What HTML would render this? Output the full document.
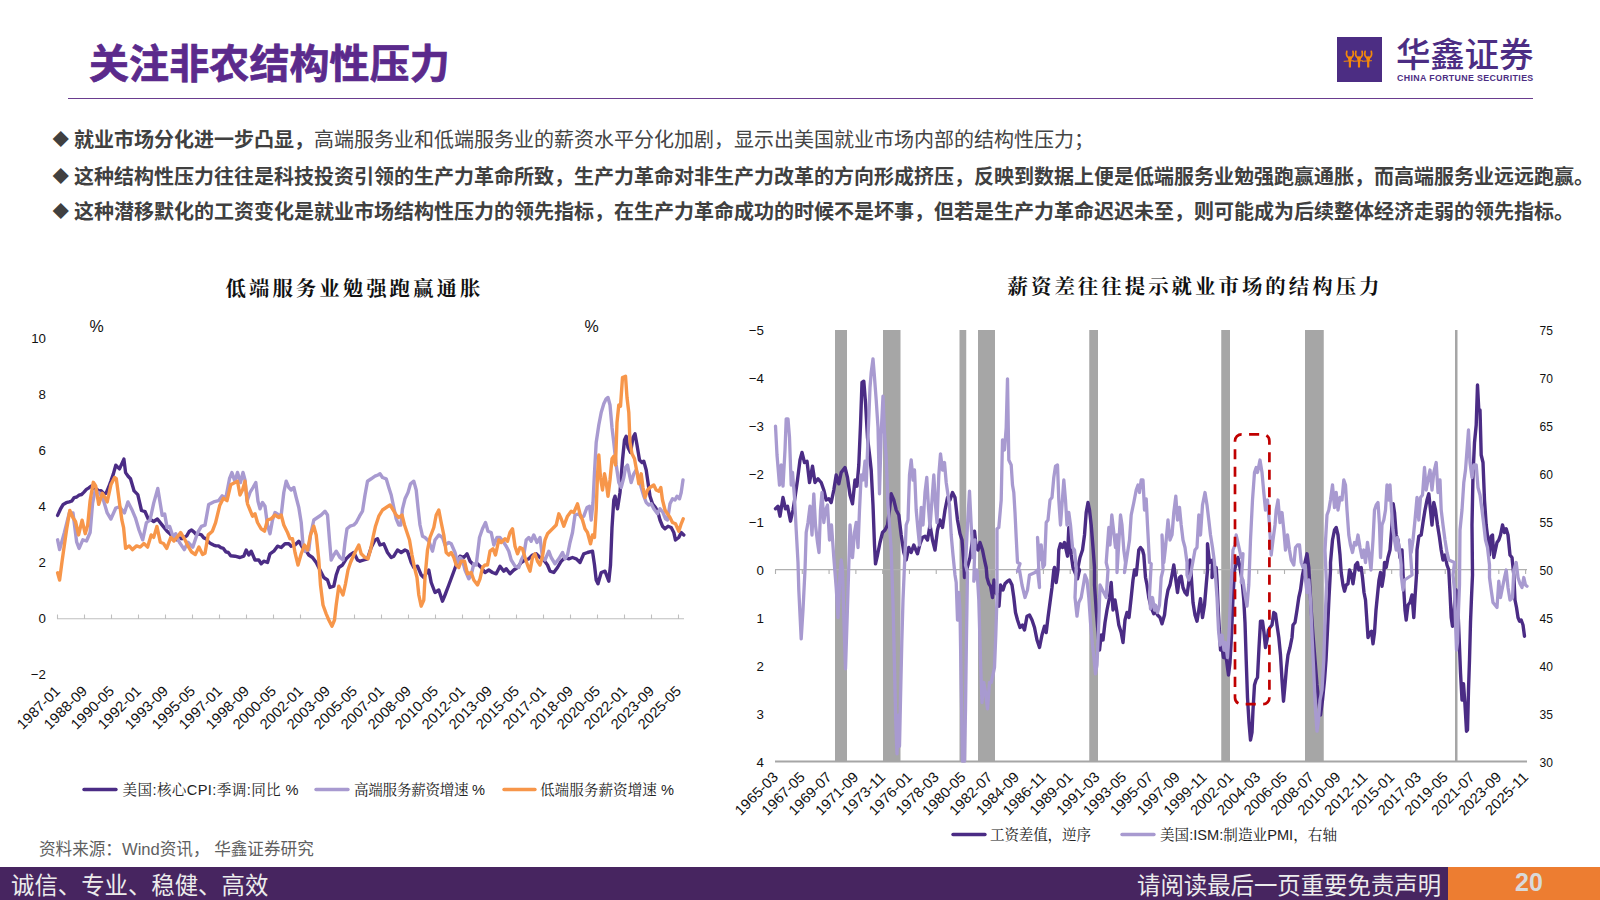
<!DOCTYPE html>
<html lang="zh-CN">
<head>
<meta charset="utf-8">
<title>关注非农结构性压力</title>
<style>
html,body{margin:0;padding:0;background:#fff;}
body{width:1600px;height:900px;position:relative;overflow:hidden;font-family:"Liberation Sans","Noto Sans CJK SC",sans-serif;}
.abs{position:absolute;white-space:nowrap;}
#title{left:89px;top:36px;font-size:40px;line-height:56px;font-weight:700;color:#5b2a8c;letter-spacing:0.1px;-webkit-text-stroke:0.7px #5b2a8c;}
#rule{left:68px;top:97.6px;width:1465px;height:1.5px;background:#6a3d8f;}
#logo-sq{left:1337px;top:37px;width:45px;height:45px;background:#4c2d83;}
#logo-cn{left:1396px;top:31.5px;font-size:34.5px;line-height:46px;color:#4c2d83;font-weight:500;letter-spacing:-0.2px;}
#logo-en{left:1397px;top:73px;font-size:8.8px;line-height:11px;color:#4c2d83;font-weight:700;letter-spacing:0.37px;}
.bul{left:52.5px;font-size:20px;line-height:30px;color:#404040;font-weight:700;}
.bul .dm{display:inline-block;width:21.5px;font-size:16.5px;font-weight:400;position:relative;top:-1px;}
.bul .rg{font-weight:400;color:#444;}
.ct{font-family:"Liberation Serif","Noto Serif CJK SC",serif;font-weight:700;font-size:20.4px;line-height:30px;letter-spacing:3.05px;color:#111;}
#src{left:39px;top:839px;font-size:16.6px;line-height:22px;color:#5f5f5f;}
#foot{left:0;top:867px;width:1600px;height:33px;background:#472560;}
#foot-o{left:1448px;top:867px;width:152px;height:33px;background:#ed7d31;}
.ft{top:870px;font-size:23.4px;line-height:33px;color:#ececec;font-weight:400;}
#pg{left:1449px;width:160px;top:866px;text-align:center;font-size:25px;line-height:33px;font-weight:700;color:#d9d9d9;}
svg text{font-family:"Liberation Sans","Noto Sans CJK SC",sans-serif;font-size:13.3px;fill:#111;}
svg .xl text{font-size:14.5px;}
svg .lg{font-family:"Liberation Sans","Noto Serif CJK SC",serif;font-size:14.6px;fill:#222;}
</style>
</head>
<body>
<div id="title" class="abs">关注非农结构性压力</div>
<div id="rule" class="abs"></div>
<div id="logo-sq" class="abs"><svg width="45" height="45" viewBox="0 0 45 45"><path d="M9.8 14.3Q8.6 19.5 12.1 21.2M16 14.3Q17.2 19.5 13.7 21.2" fill="none" stroke="#f4890a" stroke-width="1.7" stroke-linecap="round"/><path d="M10.6 19.8c1.5-0.700 3.100-0.700 4.600 0l-1 4.400h-2.600z" fill="#f4890a"/><rect x="11.8" y="22" width="2.2" height="8.4" rx="0.5" fill="#f4890a"/><path d="M7.1 24.3L16.2 23.7" stroke="#f4890a" stroke-width="1" stroke-linecap="round"/><path d="M18.9 14.3Q17.7 19.5 21.2 21.2M25.1 14.3Q26.3 19.5 22.8 21.2" fill="none" stroke="#f4890a" stroke-width="1.7" stroke-linecap="round"/><path d="M19.7 19.8c1.5-0.700 3.100-0.700 4.600 0l-1 4.400h-2.600z" fill="#f4890a"/><rect x="20.9" y="22" width="2.2" height="8.4" rx="0.5" fill="#f4890a"/><path d="M16.2 24.3L25.3 23.7" stroke="#f4890a" stroke-width="1" stroke-linecap="round"/><path d="M28.1 14.3Q26.9 19.5 30.4 21.2M34.3 14.3Q35.5 19.5 32 21.2" fill="none" stroke="#f4890a" stroke-width="1.7" stroke-linecap="round"/><path d="M28.9 19.8c1.5-0.700 3.100-0.700 4.600 0l-1 4.400h-2.600z" fill="#f4890a"/><rect x="30.1" y="22" width="2.2" height="8.4" rx="0.5" fill="#f4890a"/><path d="M25.4 24.3L34.5 23.7" stroke="#f4890a" stroke-width="1" stroke-linecap="round"/></svg></div>
<div id="logo-cn" class="abs">华鑫证券</div>
<div id="logo-en" class="abs">CHINA FORTUNE SECURITIES</div>

<div class="abs bul" style="top:125px"><span class="dm">◆</span>就业市场分化进一步凸显，<span class="rg">高端服务业和低端服务业的薪资水平分化加剧，显示出美国就业市场内部的结构性压力；</span></div>
<div class="abs bul" style="top:162px"><span class="dm">◆</span>这种结构性压力往往是科技投资引领的生产力革命所致，生产力革命对非生产力改革的方向形成挤压，反映到数据上便是低端服务业勉强跑赢通胀，而高端服务业远远跑赢。</div>
<div class="abs bul" style="top:197px"><span class="dm">◆</span>这种潜移默化的工资变化是就业市场结构性压力的领先指标，在生产力革命成功的时候不是坏事，但若是生产力革命迟迟未至，则可能成为后续整体经济走弱的领先指标。</div>

<div class="abs ct" style="left:225.5px;top:274px">低端服务业勉强跑赢通胀</div>
<div class="abs ct" style="left:1007.5px;top:272px">薪资差往往提示就业市场的结构压力</div>

<svg class="abs" style="left:0;top:0" width="1600" height="900" viewBox="0 0 1600 900">
<!-- left chart -->
<g stroke="#bfbfbf" stroke-width="1.1" fill="none"><line x1="57" y1="618.8" x2="684" y2="618.8"/><line x1="57.5" y1="614.5" x2="57.5" y2="619"/><line x1="84.5" y1="614.5" x2="84.5" y2="619"/><line x1="111.5" y1="614.5" x2="111.5" y2="619"/><line x1="138.5" y1="614.5" x2="138.5" y2="619"/><line x1="165.5" y1="614.5" x2="165.5" y2="619"/><line x1="192.5" y1="614.5" x2="192.5" y2="619"/><line x1="219.5" y1="614.5" x2="219.5" y2="619"/><line x1="246.5" y1="614.5" x2="246.5" y2="619"/><line x1="273.5" y1="614.5" x2="273.5" y2="619"/><line x1="300.5" y1="614.5" x2="300.5" y2="619"/><line x1="327.5" y1="614.5" x2="327.5" y2="619"/><line x1="354.5" y1="614.5" x2="354.5" y2="619"/><line x1="381.5" y1="614.5" x2="381.5" y2="619"/><line x1="408.5" y1="614.5" x2="408.5" y2="619"/><line x1="435.5" y1="614.5" x2="435.5" y2="619"/><line x1="462.5" y1="614.5" x2="462.5" y2="619"/><line x1="489.5" y1="614.5" x2="489.5" y2="619"/><line x1="516.5" y1="614.5" x2="516.5" y2="619"/><line x1="543.5" y1="614.5" x2="543.5" y2="619"/><line x1="570.5" y1="614.5" x2="570.5" y2="619"/><line x1="597.5" y1="614.5" x2="597.5" y2="619"/><line x1="624.5" y1="614.5" x2="624.5" y2="619"/><line x1="651.5" y1="614.5" x2="651.5" y2="619"/><line x1="678.5" y1="614.5" x2="678.5" y2="619"/></g>
<g><text x="46" y="342.9" text-anchor="end">10</text><text x="46" y="398.9" text-anchor="end">8</text><text x="46" y="454.9" text-anchor="end">6</text><text x="46" y="510.9" text-anchor="end">4</text><text x="46" y="566.9" text-anchor="end">2</text><text x="46" y="622.9" text-anchor="end">0</text><text x="46" y="678.9" text-anchor="end">−2</text></g>
<text x="89.5" y="331.5" style="font-size:16px">%</text>
<text x="584.5" y="331.5" style="font-size:16px">%</text>
<g class="xl"><text transform="translate(61,692) rotate(-45)" text-anchor="end" textLength="54" lengthAdjust="spacingAndGlyphs">1987-01</text><text transform="translate(88,692) rotate(-45)" text-anchor="end" textLength="54" lengthAdjust="spacingAndGlyphs">1988-09</text><text transform="translate(115,692) rotate(-45)" text-anchor="end" textLength="54" lengthAdjust="spacingAndGlyphs">1990-05</text><text transform="translate(142,692) rotate(-45)" text-anchor="end" textLength="54" lengthAdjust="spacingAndGlyphs">1992-01</text><text transform="translate(169,692) rotate(-45)" text-anchor="end" textLength="54" lengthAdjust="spacingAndGlyphs">1993-09</text><text transform="translate(196,692) rotate(-45)" text-anchor="end" textLength="54" lengthAdjust="spacingAndGlyphs">1995-05</text><text transform="translate(223,692) rotate(-45)" text-anchor="end" textLength="54" lengthAdjust="spacingAndGlyphs">1997-01</text><text transform="translate(250,692) rotate(-45)" text-anchor="end" textLength="54" lengthAdjust="spacingAndGlyphs">1998-09</text><text transform="translate(277,692) rotate(-45)" text-anchor="end" textLength="54" lengthAdjust="spacingAndGlyphs">2000-05</text><text transform="translate(304,692) rotate(-45)" text-anchor="end" textLength="54" lengthAdjust="spacingAndGlyphs">2002-01</text><text transform="translate(331,692) rotate(-45)" text-anchor="end" textLength="54" lengthAdjust="spacingAndGlyphs">2003-09</text><text transform="translate(358,692) rotate(-45)" text-anchor="end" textLength="54" lengthAdjust="spacingAndGlyphs">2005-05</text><text transform="translate(385,692) rotate(-45)" text-anchor="end" textLength="54" lengthAdjust="spacingAndGlyphs">2007-01</text><text transform="translate(412,692) rotate(-45)" text-anchor="end" textLength="54" lengthAdjust="spacingAndGlyphs">2008-09</text><text transform="translate(439,692) rotate(-45)" text-anchor="end" textLength="54" lengthAdjust="spacingAndGlyphs">2010-05</text><text transform="translate(466,692) rotate(-45)" text-anchor="end" textLength="54" lengthAdjust="spacingAndGlyphs">2012-01</text><text transform="translate(493,692) rotate(-45)" text-anchor="end" textLength="54" lengthAdjust="spacingAndGlyphs">2013-09</text><text transform="translate(520,692) rotate(-45)" text-anchor="end" textLength="54" lengthAdjust="spacingAndGlyphs">2015-05</text><text transform="translate(547,692) rotate(-45)" text-anchor="end" textLength="54" lengthAdjust="spacingAndGlyphs">2017-01</text><text transform="translate(574,692) rotate(-45)" text-anchor="end" textLength="54" lengthAdjust="spacingAndGlyphs">2018-09</text><text transform="translate(601,692) rotate(-45)" text-anchor="end" textLength="54" lengthAdjust="spacingAndGlyphs">2020-05</text><text transform="translate(628,692) rotate(-45)" text-anchor="end" textLength="54" lengthAdjust="spacingAndGlyphs">2022-01</text><text transform="translate(655,692) rotate(-45)" text-anchor="end" textLength="54" lengthAdjust="spacingAndGlyphs">2023-09</text><text transform="translate(682,692) rotate(-45)" text-anchor="end" textLength="54" lengthAdjust="spacingAndGlyphs">2025-05</text></g>
<g fill="none" stroke-linejoin="round" stroke-linecap="round" stroke-width="3.4">
<path stroke="#4b2c85" d="M57.6,515.4 L60.4,509.2 L63.2,504.4 L66.2,502.7 L69.3,501.9 L71.8,501 L74.2,497.6 L76.7,497 L79.1,495.2 L81.6,494.5 L84,492.1 L86.4,489.4 L88.9,487.9 L91.3,486 L93.8,488.6 L96.2,488.8 L98.7,490.9 L101.1,490.8 L103.6,493.4 L106,493.3 L108.5,487.5 L110.9,481.1 L113.3,474.1 L115.8,465.2 L119.5,468.9 L123.9,459.1 L125.6,472.6 L128.1,476.2 L130.5,478.7 L134.1,490.9 L137.8,494.6 L141.5,510.5 L145.1,511.7 L148.8,520.2 L151.2,519.9 L153.7,521.5 L157.4,519 L162.2,525.1 L164.6,528.1 L167.1,531.2 L170.2,534 L173.3,537.4 L176.9,539.8 L179.4,538 L181.8,538.7 L184.3,537.4 L186.7,535.9 L189.2,531.5 L191.6,530 L194.1,532.1 L196.5,534.9 L198.9,534 L201.4,534.9 L203.8,537.8 L206.3,538.8 L208.7,542.2 L211.1,543.8 L213.6,545.1 L216,545.9 L218.5,545.9 L220.9,547.7 L223.4,548.4 L225.8,551.8 L228.3,552.5 L230.7,555.7 L235,556.2 L240,557.5 L243.8,556.2 L246.2,550 L248.8,555 L251.2,551.2 L255,560 L258.8,560 L261.2,563.8 L263.8,561.2 L267.5,562.5 L270,553.8 L273.8,551.2 L277.5,546.2 L281.2,547.5 L285,543.8 L288.8,543.8 L291.2,546.2 L295,545 L298.8,541.2 L302.5,547.5 L305,548.8 L308.8,555 L312.5,557.5 L316.2,562.5 L320,570 L323.8,577.5 L327.5,580 L330,587.5 L333.8,586.2 L336.2,575 L338.8,567.5 L342.5,565 L346.2,558.8 L350,555 L353.8,552.5 L357.5,560 L360,561.2 L363.8,560 L367.5,558.8 L371.2,547.5 L375,540 L377.5,538.8 L380,545 L383.8,543.8 L387.5,552.5 L391.2,557.5 L393.8,556.2 L397.5,550 L401.2,552.5 L405,550 L407.5,551.2 L411.2,562.5 L413.8,567.5 L417.5,566.2 L421.2,575 L423.8,577.5 L425,575 L428.8,570 L431.2,582.5 L435,592.5 L438.8,590 L442.5,601.2 L445,595 L448.8,585 L452.5,575 L456.2,565 L460,556.2 L463.8,557.5 L467,553.8 L470,561.2 L473.8,565 L477.5,563.8 L481.2,567.5 L485,572.5 L488.8,570 L492.5,572.5 L496.2,573.8 L500,566.2 L503.8,571.2 L506.2,568.8 L510,573.8 L513.8,570 L517.5,567.5 L521.2,562.5 L525,560 L528.8,558.8 L532.5,555 L536.2,553.8 L540,557.5 L543.8,560 L547.5,565 L550,571.2 L553.8,572.5 L557.5,567.5 L561.2,561.2 L565,557.5 L568.8,558.8 L572.5,557.5 L576.2,558.8 L580,562.5 L583.8,553.8 L587.5,552.5 L592.5,551.2 L594.5,565 L596.2,580 L598,583.8 L601.2,572.5 L605,571.2 L608.8,581.2 L610.5,565 L612,527.5 L613.8,500 L615,496.2 L617.5,508.8 L620,492.5 L622.5,460 L624.5,440 L626.2,436.2 L628,447.5 L630.5,452.5 L633,437.5 L635,433.8 L637,445 L639.5,460 L642,462.5 L643.8,461.2 L646.2,470 L648,482.5 L650,496.2 L652.5,503.8 L655.5,507.5 L658,512.5 L660,520 L662.5,526.2 L665,528.8 L668,526.2 L671.2,527.5 L673.8,532.5 L675.5,540 L678.8,537.5 L681.2,532.5 L683.8,535"/>
<path stroke="#a89ad0" d="M57.6,539.8 L59.6,549.6 L64.4,532.5 L69.3,512.9 L73,512.9 L76.7,542.2 L79.1,548.4 L82.8,539.8 L86.5,541 L90.1,532.5 L92.6,503.1 L95,490.9 L99.9,493.3 L103.6,500.7 L107.2,512.9 L110.9,519 L115.8,508 L119.5,506.8 L124.4,512.9 L128,501.9 L131.7,509.2 L135.4,517.8 L139,530 L142.7,539.8 L146.4,522.7 L150,520.2 L153.7,503.1 L157.8,488.5 L159.8,500.7 L162.2,515.4 L164.7,514.1 L167.1,527.6 L169.6,526.4 L173.3,537.4 L175.7,533.7 L179.4,542.2 L184.3,549.6 L187.9,542.2 L192.8,547.1 L197.7,532.5 L201.4,526.4 L205,525.1 L208.7,504.4 L213.6,501.9 L218.5,500.7 L222.2,495.8 L225.8,498.2 L229.5,478.7 L231.9,472.6 L234.4,479.9 L235,481.2 L237.5,472.5 L240.5,482.5 L243,472.5 L245,480 L247,501.2 L250,492.5 L253,487.5 L255.8,482.5 L258,501.2 L260,508.8 L262.5,502.5 L265,506.2 L267.5,525 L270,533.8 L272.5,520 L275,512.5 L278.8,515 L281.2,515 L283.8,492.5 L286.2,481.2 L288.8,487.5 L291.2,490 L293.8,487.5 L296.2,497.5 L298.8,507.5 L301.2,522.5 L303,545 L305,551.2 L308.8,550 L310.5,535 L313.8,520 L317.5,517.5 L321.2,515 L325,511.2 L327.5,515 L329.5,540 L331.2,560 L333.8,555 L336.2,551.2 L340,557.5 L343,560 L345,542.5 L347,528.8 L350,526.2 L353.8,525 L356.2,522.5 L359.5,516.2 L362.5,511.2 L365,495 L367.5,481.2 L371.2,478.8 L375,476.2 L378,475 L380,473.8 L382.5,477.5 L386.2,478.8 L388.8,487.5 L391.2,495 L393.8,507.5 L396.2,518.8 L398.8,525 L400.8,525 L402.5,508.8 L405,498.8 L408,492.5 L410.5,483.8 L413.8,481.2 L416.2,490 L418,507.5 L420,525 L422.5,536.2 L425,537.5 L428.8,541.2 L432.5,551.2 L435,540 L438.8,535 L442.5,537.5 L445,545 L448.8,542.5 L451.2,543.8 L455,552.5 L457.5,562.5 L460,557.5 L462.5,560 L465,570 L468.8,578.8 L471.2,575 L473.8,563.8 L476.2,565 L479.5,537.5 L482.5,528.8 L485.5,522.5 L488,531.2 L491.2,532.5 L493.8,545 L497,537.5 L500,537.5 L503.8,542.5 L506.2,546.2 L508.8,551.2 L511.2,560 L515,566.2 L518.8,567.5 L521.2,560 L523.8,555 L526.2,540 L528.8,537.5 L531.2,541.2 L533.8,535 L537,542.5 L540,537.5 L542.5,557.5 L545,560 L548.8,551.2 L551.2,557.5 L555,563.8 L558.8,558.8 L562.5,552.5 L565,558.8 L567.5,555 L570,542.5 L572.5,532.5 L575,515 L578.8,513.8 L581.2,517.5 L583.8,516.2 L587,507.5 L589.5,506.2 L591.2,520 L593,502.5 L594.5,472.5 L596.2,442.5 L598.8,425 L601.2,412.5 L603.8,403.8 L606.2,398.8 L608,397.5 L610,405 L612,427.5 L613.8,442.5 L616.2,465 L618.8,482.5 L621.2,487.5 L623.8,477.5 L625.5,467.5 L627.5,465 L629.5,475 L631.2,482.5 L633.8,473.8 L636.2,470 L638.8,477.5 L641.2,487.5 L643.8,496.2 L646.2,502.5 L648.8,505 L651.2,503.8 L653.8,508.8 L657.5,513.8 L660,508.8 L663,512.5 L665.5,518.8 L667.5,520 L670,503.8 L672.5,498.8 L675,500 L677,496.2 L679.5,498.8 L681.2,492.5 L683,480"/>
<path stroke="#f7964a" d="M57.6,572.8 L59.6,580.1 L62,561.8 L64.4,544.7 L66.9,527.6 L69.8,510.5 L73,517.8 L75.5,521.5 L78.6,534.9 L82.1,520.2 L85.2,533.7 L87.7,525.1 L90.1,500.7 L93.3,482.3 L95.7,486 L98.7,504.4 L102.3,493.3 L105.5,498.2 L107.2,501.9 L110.9,484.8 L114.6,477.5 L116.3,478.7 L119.5,503.1 L121.9,520.2 L123.6,527.6 L125.6,548.4 L129.2,545.9 L132.4,549.6 L136.6,545.9 L140.2,547.1 L143.9,543.5 L147.6,547.1 L151.2,534.9 L153.7,537.4 L156.9,526.4 L160.3,542.2 L163.5,543.5 L166.7,548.4 L170.8,537.4 L174,541 L176.9,537.4 L180.6,532.5 L184.3,538.6 L187.9,545.9 L191.6,552 L195.3,554.5 L198.9,547.1 L202.6,554.5 L205,553.3 L208.2,534.9 L212.4,531.2 L215.6,522.7 L219.7,505.6 L223.4,498.2 L227,500.7 L230.7,484.8 L235,482.5 L237.5,481.2 L240,495 L242.5,490 L245,481.2 L247.5,503.8 L250,510 L252.5,516.2 L255,513.8 L257.5,522.5 L261.2,528.8 L264.5,531.2 L267.5,520 L271.2,518.8 L275,515 L278.8,517.5 L281.2,515 L283.8,525 L287.5,532.5 L290,538.8 L292.5,538.8 L295,552.5 L298,565 L301.2,553.8 L304.5,545 L307.5,550 L310.5,535 L313.8,526.2 L316.2,535 L318.8,560 L320.5,585 L323,605 L326.2,613.8 L328.8,620 L332,626.2 L334.5,620 L336.2,605 L338.8,586.2 L341.2,591.2 L343,595 L345.5,583.8 L348,570 L350.5,562.5 L353.8,555 L356.2,550 L358.8,545 L361.2,553.8 L365,557.5 L368,558.8 L370.5,550 L373,537.5 L375.5,526.2 L378.8,516.2 L382.5,510 L386.2,507.5 L390,505 L392.5,508.8 L396.2,515 L398.8,517.5 L402,515 L404.5,525 L407,532.5 L409.5,540 L412,555 L414.5,567.5 L417,577.5 L418.8,595 L421.2,606.2 L423.8,600 L425,577.5 L427.5,550 L430,537.5 L433.8,527.5 L436.2,515 L438.8,510 L441.2,522.5 L443.8,535 L446.2,552.5 L448.8,555 L451.2,552.5 L453.8,557.5 L456.2,565 L458.8,567.5 L461.2,561.2 L464.5,561.2 L467.5,573.8 L471.2,572.5 L473.8,580 L477.5,585 L480,578.8 L482.5,567.5 L485,565 L487.5,565 L490,551.2 L493,548.8 L495.5,555 L498.8,540 L501.2,542.5 L505,538.8 L507.5,541.2 L510,532.5 L512.5,528.8 L515,546.2 L517.5,553.8 L520,547.5 L522.5,548.8 L525,557.5 L527.5,565 L530,571.2 L532.5,557.5 L535,553.8 L537.5,561.2 L540,565 L542.5,556.2 L545,540 L547.5,533.8 L550,531.2 L552.5,528.8 L556.2,525 L558.8,513.8 L561.2,518.8 L563.8,526.2 L567.5,516.2 L571.2,511.2 L573.8,512.5 L577.5,503.8 L580,513.8 L582.5,520 L585,528.8 L587.5,532.5 L590.5,543.8 L592.5,535 L594.5,537.5 L596.2,510 L597.5,475 L598.8,455 L600.5,477.5 L602.5,490 L604.5,473.8 L606.2,482.5 L608,496.2 L610,480 L612,458.8 L613.8,456.2 L615.5,465 L617,422.5 L618.8,405 L620.5,406.2 L622.5,377.5 L625.5,376.2 L627,397.5 L628.8,412.5 L630,442.5 L632,453.8 L634.5,458.8 L637,472.5 L638.8,483.8 L641.2,473.8 L643,487.5 L645,497.5 L647.5,490 L650,487.5 L653.8,485 L656.2,490 L658.8,491.2 L660.8,487.5 L662.5,500 L665,510 L667.5,513.8 L670,517.5 L672.5,522.5 L675.5,523.8 L678.8,531.2 L681.2,523.8 L683.2,518.8"/>
</g>
<g stroke-width="3.4" stroke-linecap="round">
<line x1="84" y1="789.5" x2="116" y2="789.5" stroke="#4b2c85"/>
<line x1="316" y1="789.5" x2="348" y2="789.5" stroke="#a89ad0"/>
<line x1="504" y1="789.5" x2="535" y2="789.5" stroke="#f7964a"/>
</g>
<text class="lg" x="122.5" y="794.5" textLength="176" lengthAdjust="spacing">美国:核心CPI:季调:同比 %</text>
<text class="lg" x="354" y="794.5" textLength="131" lengthAdjust="spacing">高端服务薪资增速 %</text>
<text class="lg" x="540" y="794.5" textLength="134" lengthAdjust="spacing">低端服务薪资增速 %</text>

<!-- right chart -->
<g fill="#a6a6a6"><rect x="835" y="330" width="12" height="432"/><rect x="883" y="330" width="17.5" height="432"/><rect x="959.5" y="330" width="6.75" height="432"/><rect x="978" y="330" width="17" height="432"/><rect x="1089.25" y="330" width="8.75" height="432"/><rect x="1221.25" y="330" width="8.75" height="432"/><rect x="1305" y="330" width="18.75" height="432"/><rect x="1455" y="330" width="2.5" height="432"/></g>
<g stroke="#b0b0b0" stroke-width="1.1" fill="none"><line x1="775" y1="569.6" x2="1527" y2="569.6"/><line x1="775.5" y1="569.5" x2="775.5" y2="574"/><line x1="802.29" y1="569.5" x2="802.29" y2="574"/><line x1="829.08" y1="569.5" x2="829.08" y2="574"/><line x1="855.87" y1="569.5" x2="855.87" y2="574"/><line x1="882.66" y1="569.5" x2="882.66" y2="574"/><line x1="909.45" y1="569.5" x2="909.45" y2="574"/><line x1="936.24" y1="569.5" x2="936.24" y2="574"/><line x1="963.03" y1="569.5" x2="963.03" y2="574"/><line x1="989.82" y1="569.5" x2="989.82" y2="574"/><line x1="1016.61" y1="569.5" x2="1016.61" y2="574"/><line x1="1043.4" y1="569.5" x2="1043.4" y2="574"/><line x1="1070.19" y1="569.5" x2="1070.19" y2="574"/><line x1="1096.98" y1="569.5" x2="1096.98" y2="574"/><line x1="1123.77" y1="569.5" x2="1123.77" y2="574"/><line x1="1150.56" y1="569.5" x2="1150.56" y2="574"/><line x1="1177.35" y1="569.5" x2="1177.35" y2="574"/><line x1="1204.14" y1="569.5" x2="1204.14" y2="574"/><line x1="1230.93" y1="569.5" x2="1230.93" y2="574"/><line x1="1257.72" y1="569.5" x2="1257.72" y2="574"/><line x1="1284.51" y1="569.5" x2="1284.51" y2="574"/><line x1="1311.3" y1="569.5" x2="1311.3" y2="574"/><line x1="1338.09" y1="569.5" x2="1338.09" y2="574"/><line x1="1364.88" y1="569.5" x2="1364.88" y2="574"/><line x1="1391.67" y1="569.5" x2="1391.67" y2="574"/><line x1="1418.46" y1="569.5" x2="1418.46" y2="574"/><line x1="1445.25" y1="569.5" x2="1445.25" y2="574"/><line x1="1472.04" y1="569.5" x2="1472.04" y2="574"/><line x1="1498.83" y1="569.5" x2="1498.83" y2="574"/><line x1="1525.62" y1="569.5" x2="1525.62" y2="574"/></g>
<line x1="775" y1="761.5" x2="1527" y2="761.5" stroke="#a6a6a6" stroke-width="2"/>
<g><text x="764" y="334.9" text-anchor="end">−5</text><text x="764" y="382.9" text-anchor="end">−4</text><text x="764" y="430.9" text-anchor="end">−3</text><text x="764" y="478.9" text-anchor="end">−2</text><text x="764" y="526.9" text-anchor="end">−1</text><text x="764" y="574.9" text-anchor="end">0</text><text x="764" y="622.9" text-anchor="end">1</text><text x="764" y="670.9" text-anchor="end">2</text><text x="764" y="718.9" text-anchor="end">3</text><text x="764" y="766.9" text-anchor="end">4</text></g>
<g><text x="1539.5" y="334.9" textLength="13.4" lengthAdjust="spacingAndGlyphs">75</text><text x="1539.5" y="382.9" textLength="13.4" lengthAdjust="spacingAndGlyphs">70</text><text x="1539.5" y="430.9" textLength="13.4" lengthAdjust="spacingAndGlyphs">65</text><text x="1539.5" y="478.9" textLength="13.4" lengthAdjust="spacingAndGlyphs">60</text><text x="1539.5" y="526.9" textLength="13.4" lengthAdjust="spacingAndGlyphs">55</text><text x="1539.5" y="574.9" textLength="13.4" lengthAdjust="spacingAndGlyphs">50</text><text x="1539.5" y="622.9" textLength="13.4" lengthAdjust="spacingAndGlyphs">45</text><text x="1539.5" y="670.9" textLength="13.4" lengthAdjust="spacingAndGlyphs">40</text><text x="1539.5" y="718.9" textLength="13.4" lengthAdjust="spacingAndGlyphs">35</text><text x="1539.5" y="766.9" textLength="13.4" lengthAdjust="spacingAndGlyphs">30</text></g>
<g class="xl"><text transform="translate(779,778) rotate(-45)" text-anchor="end" textLength="54" lengthAdjust="spacingAndGlyphs">1965-03</text><text transform="translate(805.79,778) rotate(-45)" text-anchor="end" textLength="54" lengthAdjust="spacingAndGlyphs">1967-05</text><text transform="translate(832.58,778) rotate(-45)" text-anchor="end" textLength="54" lengthAdjust="spacingAndGlyphs">1969-07</text><text transform="translate(859.37,778) rotate(-45)" text-anchor="end" textLength="54" lengthAdjust="spacingAndGlyphs">1971-09</text><text transform="translate(886.16,778) rotate(-45)" text-anchor="end" textLength="54" lengthAdjust="spacingAndGlyphs">1973-11</text><text transform="translate(912.95,778) rotate(-45)" text-anchor="end" textLength="54" lengthAdjust="spacingAndGlyphs">1976-01</text><text transform="translate(939.74,778) rotate(-45)" text-anchor="end" textLength="54" lengthAdjust="spacingAndGlyphs">1978-03</text><text transform="translate(966.53,778) rotate(-45)" text-anchor="end" textLength="54" lengthAdjust="spacingAndGlyphs">1980-05</text><text transform="translate(993.32,778) rotate(-45)" text-anchor="end" textLength="54" lengthAdjust="spacingAndGlyphs">1982-07</text><text transform="translate(1020.11,778) rotate(-45)" text-anchor="end" textLength="54" lengthAdjust="spacingAndGlyphs">1984-09</text><text transform="translate(1046.9,778) rotate(-45)" text-anchor="end" textLength="54" lengthAdjust="spacingAndGlyphs">1986-11</text><text transform="translate(1073.69,778) rotate(-45)" text-anchor="end" textLength="54" lengthAdjust="spacingAndGlyphs">1989-01</text><text transform="translate(1100.48,778) rotate(-45)" text-anchor="end" textLength="54" lengthAdjust="spacingAndGlyphs">1991-03</text><text transform="translate(1127.27,778) rotate(-45)" text-anchor="end" textLength="54" lengthAdjust="spacingAndGlyphs">1993-05</text><text transform="translate(1154.06,778) rotate(-45)" text-anchor="end" textLength="54" lengthAdjust="spacingAndGlyphs">1995-07</text><text transform="translate(1180.85,778) rotate(-45)" text-anchor="end" textLength="54" lengthAdjust="spacingAndGlyphs">1997-09</text><text transform="translate(1207.64,778) rotate(-45)" text-anchor="end" textLength="54" lengthAdjust="spacingAndGlyphs">1999-11</text><text transform="translate(1234.43,778) rotate(-45)" text-anchor="end" textLength="54" lengthAdjust="spacingAndGlyphs">2002-01</text><text transform="translate(1261.22,778) rotate(-45)" text-anchor="end" textLength="54" lengthAdjust="spacingAndGlyphs">2004-03</text><text transform="translate(1288.01,778) rotate(-45)" text-anchor="end" textLength="54" lengthAdjust="spacingAndGlyphs">2006-05</text><text transform="translate(1314.8,778) rotate(-45)" text-anchor="end" textLength="54" lengthAdjust="spacingAndGlyphs">2008-07</text><text transform="translate(1341.59,778) rotate(-45)" text-anchor="end" textLength="54" lengthAdjust="spacingAndGlyphs">2010-09</text><text transform="translate(1368.38,778) rotate(-45)" text-anchor="end" textLength="54" lengthAdjust="spacingAndGlyphs">2012-11</text><text transform="translate(1395.17,778) rotate(-45)" text-anchor="end" textLength="54" lengthAdjust="spacingAndGlyphs">2015-01</text><text transform="translate(1421.96,778) rotate(-45)" text-anchor="end" textLength="54" lengthAdjust="spacingAndGlyphs">2017-03</text><text transform="translate(1448.75,778) rotate(-45)" text-anchor="end" textLength="54" lengthAdjust="spacingAndGlyphs">2019-05</text><text transform="translate(1475.54,778) rotate(-45)" text-anchor="end" textLength="54" lengthAdjust="spacingAndGlyphs">2021-07</text><text transform="translate(1502.33,778) rotate(-45)" text-anchor="end" textLength="54" lengthAdjust="spacingAndGlyphs">2023-09</text><text transform="translate(1529.12,778) rotate(-45)" text-anchor="end" textLength="54" lengthAdjust="spacingAndGlyphs">2025-11</text></g>
<g fill="none" stroke-linejoin="round" stroke-linecap="round">
<path stroke="#4b2c85" stroke-width="3.4" d="M775.5,508.8 L778,506.2 L780,516.2 L783,497.5 L785.5,508.8 L787.5,506.2 L790.5,521.2 L793,510 L795,497.5 L797.5,480 L800,460 L802,452.5 L804.5,462.5 L807,461.2 L809.5,482.5 L812.5,466.2 L815,482.5 L818,478.8 L821.2,482.5 L823.8,490 L826.2,500 L828.8,498.8 L831.2,502.5 L833.8,490 L836.2,475 L838.8,483.8 L841.2,472.5 L845,467.5 L847.5,477.5 L850,495 L852.5,503.8 L855,480 L857,486.2 L858.8,465 L860.5,425 L862,382.5 L863.8,381.2 L865.5,402.5 L867.5,437.5 L870,458.8 L871.2,470 L873,505 L874.5,545 L875.5,563.8 L877.5,555 L880,542.5 L882.5,532.5 L885,530 L887.5,525 L889.5,510 L891.2,493.8 L893.8,500 L896.2,510 L898.8,515 L901.2,535 L903.8,552.5 L906.2,560 L908.8,547.5 L911.2,552.5 L913.8,545 L917.5,553.8 L920,543.8 L922.5,537.5 L925,536.2 L927.5,540 L930,525 L932.5,540 L935,550 L937.5,530 L940,520 L942.5,527.5 L945,510 L947.5,497.5 L950,500 L952.5,492.5 L955,497.5 L957.5,520 L960,533.8 L962,540 L963.8,562.5 L964.5,577.5 L970,557.5 L972.5,540 L974.5,531.2 L976.2,547.5 L978,550 L980,542.5 L982.5,550 L984.5,560 L986.2,567.5 L987,577.5 L988.8,583.8 L990.5,586.2 L992.5,597.5 L994,580 L995.5,592.5 L997.5,595 L999,606.2 L1000.5,585 L1003,590 L1005,583.8 L1007.5,581.2 L1009.5,580 L1012,585 L1013.8,597.5 L1015.5,612.5 L1017.5,620 L1020,627.5 L1022.5,625 L1024.5,630 L1027,616.2 L1029.5,615 L1032,620 L1034.5,627.5 L1037,640 L1039.5,647.5 L1042,635 L1044.5,626.2 L1046.2,632.5 L1048,617.5 L1050,602.5 L1052,587.5 L1053.8,570 L1054.5,567.5 L1056.2,582.5 L1058,570 L1058.8,550 L1060.5,543.8 L1062.5,547.5 L1064.5,542.5 L1066.2,550 L1067.5,556.2 L1068.8,527.5 L1070,540 L1071.2,555 L1073,567.5 L1077.5,578.8 L1079.5,570 L1078,567.5 L1080,557.5 L1082.5,550 L1084.5,535 L1086.2,512.5 L1088,502.5 L1089.5,510 L1091.2,525 L1093,547.5 L1094.5,567.5 L1094.5,585 L1096.2,610 L1098,632.5 L1099.5,650 L1101.2,635 L1103,640 L1105,622.5 L1107,610 L1109.5,597.5 L1111.2,582.5 L1113,610 L1115,600 L1117,612.5 L1118.8,625 L1121.2,632.5 L1123,642.5 L1125,620 L1127,612.5 L1129,617.5 L1131.2,597.5 L1133,580 L1134.5,570 L1136.2,575 L1137,567.5 L1138.8,550 L1140.5,547.5 L1142.5,550 L1143.8,555 L1145.5,577.5 L1147,585 L1148.8,597.5 L1151.2,607.5 L1153.8,613.8 L1155,610 L1157.5,615 L1160,617.5 L1162,623.8 L1164.5,615 L1166.2,600 L1168,590 L1170,585 L1172,575 L1173.8,565 L1175.5,577.5 L1177.5,592.5 L1179.5,577.5 L1181.2,576.2 L1183,587.5 L1185,592.5 L1187,595 L1188.8,582.5 L1190,560 L1191.2,575 L1193,602.5 L1195,615 L1197,621.2 L1198.8,610 L1200.5,598.8 L1202.5,617.5 L1204.5,605 L1206.2,585 L1207.5,570 L1207.5,543.8 L1209.5,562.5 L1212.5,560 L1212,577.5 L1213.8,573.8 L1216.2,567.5 L1217,580 L1218,605 L1219.5,632.5 L1220.5,650 L1222,647.5 L1223.5,657.5 L1225,653.8 L1226.5,660 L1228.5,675 L1230,662.5 L1231.5,635 L1233,597.5 L1234.5,570 L1238,557.5 L1239.5,565 L1242,580 L1243.8,600 L1245,622.5 L1246.2,660 L1247.5,697.5 L1249,722.5 L1250.5,740 L1252,732.5 L1253,710 L1254.5,685 L1256,680 L1257.5,677.5 L1259,647.5 L1260.5,621.2 L1262.5,621.2 L1264,632.5 L1265.5,647.5 L1267,640 L1268.5,630 L1270,627.5 L1272,625 L1273.8,612.5 L1275.5,613.8 L1277,625 L1278.8,637.5 L1280.5,655 L1282,680 L1283.5,701.2 L1285,685 L1286.5,667.5 L1288,655 L1290,647.5 L1292,637.5 L1293,625 L1295,622.5 L1297,610 L1298.8,597.5 L1300.5,590 L1302.5,575 L1305,562.5 L1307,553.8 L1308.8,567.5 L1309.5,580 L1311.2,610 L1313,635 L1315,660 L1317,685 L1318.8,702.5 L1320.5,715 L1322.5,700 L1324.5,680 L1326,660 L1327.5,630 L1329,597.5 L1330.5,570 L1330.5,562.5 L1332.5,540 L1334.5,530 L1336.2,527.5 L1338,535 L1340,555 L1341.2,572.5 L1343,585 L1344.5,591.2 L1346.2,585 L1348,583.8 L1349.5,570 L1351.2,573.8 L1353,583.8 L1355,570 L1355.5,565 L1357.5,562.5 L1358.8,570 L1361.2,567.5 L1362.5,577.5 L1364,592.5 L1365.5,600 L1367,622.5 L1368,637.5 L1370,632.5 L1371.5,631.2 L1373,643.8 L1374.5,632.5 L1376,610 L1377.5,595 L1379,580 L1380.5,572.5 L1382,586.2 L1383.8,575 L1384.5,562.5 L1386.2,567.5 L1388,557.5 L1390,550 L1392,525 L1393.2,503.8 L1394.5,512.5 L1396.2,535 L1398,540 L1400,557.5 L1402,550 L1403.8,590 L1405,610 L1406.2,620 L1408,605 L1410,602.5 L1412,595 L1413.8,617.5 L1415,597.5 L1416.5,575 L1417,550 L1418.8,536.2 L1421.2,535 L1423,522.5 L1425,510 L1427,500 L1428.8,493.8 L1430.5,510 L1432,525 L1433.8,502.5 L1435.5,510 L1437.5,525 L1439.5,537.5 L1441.2,550 L1443,560 L1445,555 L1447,565 L1448.8,570 L1450,592.5 L1451.2,617.5 L1452.5,626.2 L1453.8,615 L1455,597.5 L1456.2,590 L1457.5,597.5 L1459,635 L1460.5,672.5 L1462,700 L1463.5,683.8 L1465,705 L1466.5,731.2 L1467.5,730 L1468.5,690 L1469.5,660 L1470.5,622.5 L1471.5,597.5 L1472.5,575 L1472,525 L1473,475 L1474.5,442.5 L1476.2,425 L1477.5,385 L1478.8,410 L1480,410 L1481.2,455 L1483,462.5 L1484.5,500 L1486.2,525 L1488,540 L1489.5,555 L1491.2,536.2 L1492.5,535 L1493.8,557.5 L1497,542.5 L1498.8,540 L1500.5,535 L1502.5,525 L1504.5,532.5 L1506.2,528.8 L1508,535 L1510,555 L1512,557.5 L1513.8,575 L1515,600 L1516.5,607.5 L1518,617.5 L1519.5,621.2 L1521.2,620 L1523,625 L1524.5,636.2"/>
<path stroke="#a89ad0" stroke-width="3.3" d="M775.5,426.2 L777,455 L779.5,485 L781.2,465 L783,486.2 L785,450 L786.2,418.8 L788,418.8 L789.5,437.5 L791.2,485 L792.5,472.5 L794.5,497.5 L796.2,530 L798,562.5 L798.8,590 L801.2,638.8 L803,610 L805,570 L806.2,532.5 L808,522.5 L810,506.2 L812,535 L813.8,493.8 L815.5,525 L817.5,542.5 L819,552.5 L820.5,510 L822,492.5 L823.8,522.5 L825.5,510 L827.5,505 L829.5,540 L831.5,525 L833.8,557.5 L836.2,587.5 L838,617.5 L840,575 L841.2,560 L842.5,570 L844,622.5 L845.5,668.8 L847,622.5 L848.5,575 L850,525 L852.5,557.5 L854.5,532.5 L856.2,522.5 L858,547.5 L859.5,510 L861.2,475 L863,480 L865,461.2 L866.2,486.2 L868,437.5 L870,387.5 L871.2,372.5 L873,358.8 L874.5,377.5 L876.2,400 L878,427.5 L879.5,493.8 L881.2,432.5 L883,396.2 L884.5,432.5 L886.2,457.5 L888,505 L889.5,525 L891.2,550 L893.2,610 L894.5,667.5 L895.8,722.5 L897,753.8 L898,720 L898.8,715 L899.5,746.2 L900.5,700 L901.8,642.5 L903,600 L906.2,525 L908,520 L909.5,475 L911.2,460 L913,480 L914.5,470 L916.2,510 L918,530 L919.5,545 L921.2,507.5 L923,525 L925,492.5 L926.8,477.5 L928.5,507.5 L930,527.5 L932,500 L933.8,475 L935.5,505 L937,522.5 L938.8,475 L940.5,453.8 L942.5,470 L944.5,462.5 L946.2,482.5 L948,495 L949.5,505 L951.2,535 L953,555 L955,575 L956.2,582.5 L957.5,620 L958.8,592.5 L960,610 L961.2,685 L962.5,761.2 L964.5,761.2 L965.5,710 L966.5,635 L967.5,572.5 L965.5,565 L967.5,525 L969.5,491.2 L971.2,525 L973,557.5 L975,540 L973.8,581.2 L977,570 L978.8,600 L980.5,660 L982,702.5 L983.8,682.5 L985.5,692.5 L987.5,708.8 L989.5,682.5 L991.2,682.5 L993,675 L994.5,667.5 L995.8,635 L997,597.5 L997,528.8 L998.8,527.5 L1001.2,500 L1002.5,440 L1004.5,450 L1006.2,427.5 L1007.5,378.8 L1008.8,460 L1011.2,465 L1012.5,485 L1013.8,492.5 L1015,512.5 L1016.2,537.5 L1017.5,562.5 L1020,563.8 L1017.5,571.2 L1019.5,570 L1022,585 L1025,597.5 L1027.5,590 L1029.5,575 L1035,572.5 L1037.5,570 L1039.5,587.5 L1037.5,537.5 L1039.5,560 L1041.2,545 L1043,567.5 L1044.5,565 L1046.2,522.5 L1048,520 L1050,500 L1052,497.5 L1053.8,477.5 L1055.5,466.2 L1057.5,465 L1058.8,500 L1060.5,525 L1062,505 L1063.8,480 L1065.5,500 L1067,525 L1068.8,512.5 L1070.5,525 L1072.5,547.5 L1074.5,550 L1076.2,567.5 L1075,597.5 L1077,616.2 L1078.8,602.5 L1081.2,597.5 L1083.8,582.5 L1085,575 L1087,580 L1088.8,597.5 L1090.5,622.5 L1092.5,645 L1094.2,660 L1095.5,673.8 L1097,665 L1098.8,622.5 L1100,585 L1106.2,597.5 L1108,570 L1106.2,562.5 L1108.8,527.5 L1110,545 L1111.8,515 L1113.8,532.5 L1115.5,547.5 L1117,535 L1117,572.5 L1120.5,515 L1122,525 L1123.8,550 L1125.5,562.5 L1124.5,572.5 L1129.5,540 L1131.2,515 L1133.8,502.5 L1136.2,490 L1138,485 L1139.5,492.5 L1141.2,480 L1143,480 L1144.5,510 L1146.2,498.8 L1147.5,525 L1149.5,562.5 L1151.2,563.8 L1149.5,595 L1150.5,608.8 L1152.5,597.5 L1154.5,610 L1155.5,605 L1157.5,612.5 L1159.5,605 L1161.2,577.5 L1163,570 L1162,535 L1163.8,562.5 L1165.5,547.5 L1168,520 L1170,540 L1172,535 L1173.8,512.5 L1175.8,496.2 L1177.5,520 L1179.5,507.5 L1181.2,525 L1183,540 L1185,547.5 L1187,562.5 L1187,575 L1188.8,580 L1190.5,575 L1195,550 L1197,547.5 L1198.8,515 L1200.5,535 L1202.5,505 L1205,492.5 L1207,505 L1208.8,520 L1210.5,535 L1212.5,547.5 L1214.5,562.5 L1217,597.5 L1218.5,630 L1220,645 L1222,635 L1224,650 L1225.5,642.5 L1227.5,657.5 L1229,635 L1230.5,597.5 L1233,550 L1235,545 L1236.2,535 L1241.2,557.5 L1243,553.8 L1241.2,582.5 L1243,580 L1245,595 L1247,606.2 L1248.8,585 L1250.5,540 L1252.5,500 L1254.5,472.5 L1256.2,467.5 L1257.5,472.5 L1260,460 L1262,472.5 L1263.8,492.5 L1265.5,510 L1267.5,500 L1269.5,525 L1271.2,555 L1273,540 L1275,525 L1276.2,510 L1278,500 L1280,522.5 L1282,512.5 L1283.8,530 L1285.5,550 L1287.5,535 L1289.5,550 L1291.2,560 L1293.8,565 L1295.5,547.5 L1297.5,545 L1299.5,545 L1301.2,562.5 L1303,567.5 L1305,565 L1305,575 L1307,592.5 L1308.8,580 L1310.5,600 L1312,635 L1313.8,672.5 L1315.5,710 L1317,731.2 L1318.5,720 L1320,700 L1322,690 L1323.8,660 L1325,622.5 L1326.5,585 L1325,550 L1327,515 L1328.8,510 L1330.5,500 L1332.5,485 L1334.5,507.5 L1336.2,492.5 L1338,510 L1340,497.5 L1342,500 L1343.8,480 L1345.5,485 L1347,510 L1348.8,535 L1350.5,545 L1352.5,552.5 L1354.5,542.5 L1356.2,545 L1358,535 L1360,547.5 L1362,557.5 L1363.8,550 L1365.5,562.5 L1367.5,542.5 L1369.5,557.5 L1371,570 L1373,540 L1374.5,510 L1376.2,505 L1378,502.5 L1379.5,525 L1380.5,557.5 L1382,525 L1383.8,520 L1385.5,510 L1387,485 L1388.8,500 L1390,485 L1391.2,505 L1393,530 L1394.5,540 L1396.2,550 L1397.5,537.5 L1399.5,550 L1401.2,565 L1401.2,575 L1403,590 L1404.5,580 L1412,575 L1409.5,540 L1411.2,552.5 L1413,540 L1415,520 L1417,497.5 L1418.8,520 L1420.5,497.5 L1422.5,495 L1424.5,467.5 L1426.2,490 L1428,480 L1430,470 L1432,490 L1433.8,472.5 L1436.2,462.5 L1438,492.5 L1440,480 L1441.2,510 L1443,525 L1445,540 L1447,552.5 L1448.8,560 L1454.5,562.5 L1453,575 L1454.5,590 L1455.5,622.5 L1456.5,650 L1457.5,642.5 L1458.5,610 L1459.5,585 L1460,530 L1462,510 L1463.8,482.5 L1465.5,470 L1467,450 L1468.5,430 L1470,462.5 L1472,477.5 L1473.8,465 L1476.2,465 L1478,487.5 L1480,495 L1482,510 L1483.8,525 L1485.5,540 L1487.5,547.5 L1489.5,565 L1489.5,577.5 L1491.2,590 L1493,602.5 L1495,605 L1497,607.5 L1498.8,581.2 L1500.5,597.5 L1502.5,587.5 L1504.5,577.5 L1506.2,570 L1508,587.5 L1510,600 L1512.5,597.5 L1513.8,570 L1516.2,562.5 L1518,577.5 L1520,583.8 L1522,587.5 L1523.8,577.5 L1525.5,585 L1527,586.2"/>
</g>
<path d="M1235,440.9 A6.5,6.5 0 0 1 1241.5,434.4 H1262.9 A6.5,6.5 0 0 1 1269.4,440.9 V697.7 A6.5,6.5 0 0 1 1262.9,704.2 H1241.5 A6.5,6.5 0 0 1 1235,697.7 Z" fill="none" stroke="#c00000" stroke-width="2.7" stroke-dasharray="10.1 7.41"/>
<g stroke-width="3.4" stroke-linecap="round">
<line x1="953" y1="834.5" x2="985" y2="834.5" stroke="#4b2c85"/>
<line x1="1122" y1="834.5" x2="1154" y2="834.5" stroke="#a89ad0"/>
</g>
<text class="lg" x="990" y="839.5" textLength="101" lengthAdjust="spacing">工资差值，逆序</text>
<text class="lg" x="1160" y="839.5" textLength="177" lengthAdjust="spacing">美国:ISM:制造业PMI，右轴</text>
</svg>

<div id="src" class="abs">资料来源：Wind资讯， 华鑫证券研究</div>
<div id="foot" class="abs"></div>
<div id="foot-o" class="abs"></div>
<div class="abs ft" style="left:11px">诚信、专业、稳健、高效</div>
<div class="abs ft" style="left:1137px">请阅读最后一页重要免责声明</div>
<div id="pg" class="abs">20</div>
</body>
</html>
